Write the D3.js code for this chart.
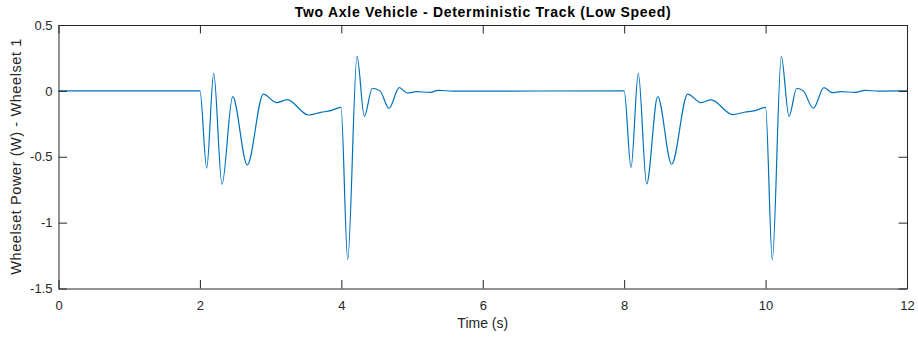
<!DOCTYPE html>
<html>
<head>
<meta charset="utf-8">
<script src="https://cdn.jsdelivr.net/npm/d3@7"></script>
<style>
  body { margin: 0; background: #fff; }
  svg { display: block; font-family: "Liberation Sans", Arial, sans-serif; }
</style>
</head>
<body>
<svg width="918" height="337"></svg>
<script>
// samples (time in s, power in W)
var timeS = [0, 2.0, 2.096, 2.195, 2.312, 2.463, 2.670, 2.897, 3.085, 3.236, 3.533, 3.71, 3.85, 3.995,
    4.09, 4.222, 4.325, 4.438, 4.547, 4.674, 4.82, 4.933, 5.066, 5.254, 5.371, 5.58,
    8.0, 8.097, 8.2, 8.318, 8.474, 8.672, 8.898, 9.086, 9.228, 9.534, 9.70, 9.85, 10.0,
    10.095, 10.222, 10.331, 10.44, 10.533, 10.675, 10.826, 10.943, 11.07, 11.264, 11.406, 11.6, 12];
var powerW = [0, 0, -0.587, 0.133, -0.709, -0.044, -0.562, -0.024, -0.089, -0.066, -0.183, -0.163, -0.150, -0.125,
    -1.280, 0.262, -0.193, 0.020, 0.000, -0.132, 0.024, -0.016, -0.006, -0.011, 0.004, -0.002,
    0, -0.583, 0.133, -0.707, -0.044, -0.557, -0.024, -0.089, -0.069, -0.180, -0.162, -0.150, -0.125,
    -1.283, 0.260, -0.193, 0.020, 0.000, -0.132, 0.024, -0.014, -0.006, -0.011, 0.004, -0.002, 0];

var xTicks = [0, 2, 4, 6, 8, 10, 12];
var yTicks = [-1.5, -1, -0.5, 0, 0.5];

var svg = d3.select("svg"),
    margin = {top: 25, right: 11, bottom: 48.5, left: 58.5},
    width = +svg.attr("width") - margin.left - margin.right,
    height = +svg.attr("height") - margin.top - margin.bottom;

var axisColor = "#262626";

var x = d3.scaleLinear().domain([0, 12]).range([0, width]),
    y = d3.scaleLinear().domain([-1.5, 0.5]).range([height, 0]);

var g = svg.append("g")
    .attr("transform", "translate(" + margin.left + "," + margin.top + ")");

var data = timeS.map(function(t, i) { return {t: t, p: powerW[i]}; });

var line = d3.line()
    .curve(d3.curveMonotoneX)
    .x(function(d) { return x(d.t); })
    .y(function(d) { return y(d.p); });

g.append("path")
    .datum(data)
    .attr("fill", "none")
    .attr("stroke", "#0072BD")
    .attr("stroke-width", 1.2)
    .attr("d", line);

// axes, MATLAB style: ticks inside, box on
function styleAxis(sel) {
    sel.select(".domain").attr("stroke", axisColor);
    sel.selectAll(".tick line").attr("stroke", axisColor);
    sel.selectAll(".tick text").attr("fill", axisColor).style("font-size", "13px");
}

g.append("g")
    .attr("transform", "translate(0," + height + ")")
    .call(d3.axisBottom(x).tickValues(xTicks).tickSizeInner(-8.5).tickSizeOuter(0).tickPadding(12))
    .call(styleAxis);

g.append("g")
    .call(d3.axisTop(x).tickValues(xTicks).tickSizeInner(-8.5).tickSizeOuter(0).tickFormat(""))
    .call(styleAxis);

g.append("g")
    .call(d3.axisLeft(y).tickValues(yTicks).tickSizeInner(-8.5).tickSizeOuter(0).tickPadding(6)
        .tickFormat(function(d) { return String(d); }))
    .call(styleAxis);

g.append("g")
    .attr("transform", "translate(" + width + ",0)")
    .call(d3.axisRight(y).tickValues(yTicks).tickSizeInner(-8.5).tickSizeOuter(0).tickFormat(""))
    .call(styleAxis);

// labels
svg.append("text")
    .attr("x", margin.left + width / 2)
    .attr("y", 17)
    .attr("text-anchor", "middle")
    .attr("textLength", 376)
    .attr("lengthAdjust", "spacing")
    .style("font-size", "14px")
    .style("font-weight", "bold")
    .attr("fill", "#000")
    .text("Two Axle Vehicle - Deterministic Track (Low Speed)");

svg.append("text")
    .attr("x", margin.left + width / 2)
    .attr("y", 328)
    .attr("text-anchor", "middle")
    .style("font-size", "14px")
    .attr("fill", axisColor)
    .text("Time (s)");

svg.append("text")
    .attr("transform", "translate(21," + (margin.top + height / 2) + ") rotate(-90)")
    .attr("text-anchor", "middle")
    .attr("textLength", 236)
    .attr("lengthAdjust", "spacing")
    .style("font-size", "14.5px")
    .attr("fill", axisColor)
    .text("Wheelset Power (W) - Wheelset 1");
</script>
</body>
</html>
